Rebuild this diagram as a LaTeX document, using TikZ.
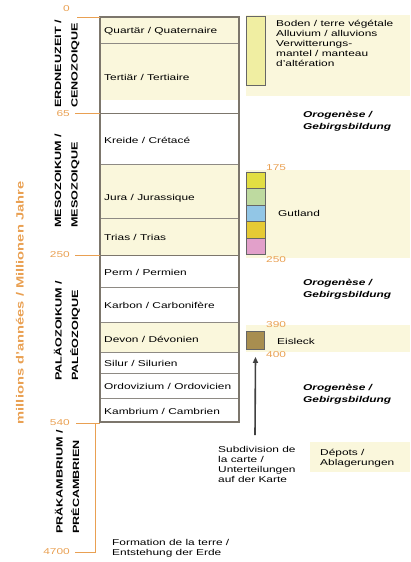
\documentclass[tikz,border=0pt]{standalone}
\usepackage{fontspec}
\setmainfont{Liberation Sans}[FakeStretch=1.4]
\usetikzlibrary{arrows.meta}

\definecolor{creme}{HTML}{FAF7DC}
\definecolor{orangeton}{HTML}{E9A052}
\definecolor{rahmengrau}{HTML}{7C766C}
\definecolor{liniegrau}{HTML}{8E8A84}
\definecolor{bodengelb}{HTML}{F0EEA2}
\definecolor{gelbeins}{HTML}{E2DE42}
\definecolor{gruen}{HTML}{BEDAA0}
\definecolor{blau}{HTML}{92C6E6}
\definecolor{gold}{HTML}{E6CA34}
\definecolor{rosa}{HTML}{E2A0CA}
\definecolor{oesling}{HTML}{A88E50}

\tikzset{
  zeile/.style={anchor=west, inner sep=0pt, font=\fontsize{8.5}{10}\selectfont},
  zahllinks/.style={anchor=east, inner sep=0pt, text=orangeton, font=\fontsize{8.5}{10}\selectfont},
  zahlrechts/.style={anchor=west, inner sep=0pt, text=orangeton, font=\fontsize{8.5}{10}\selectfont},
  aera/.style={rotate=90, anchor=west, align=left, inner sep=0pt, font=\bfseries\fontsize{9}{16.5}\selectfont},
  orogen/.style={anchor=north west, align=left, inner sep=0pt, font=\bfseries\itshape\fontsize{8.5}{12}\selectfont},
  notiz/.style={anchor=north west, align=left, inner sep=0pt, font=\fontsize{8.5}{10}\selectfont},
  kaestchen/.style={draw=black!60, line width=0.8pt},
  altersstrich/.style={draw=orangeton, line width=0.6pt},
  pfeil/.style={draw=black!75, line width=1.6pt, -{Triangle[length=6pt,width=5pt]}},
}

\begin{document}
\begin{tikzpicture}[x=1pt, y=-1pt]
		%%%%% START %%%%%
		\useasboundingbox (0,0) rectangle (410,562);
		
		% helle Baender rechts
		\fill[creme] (246,15) rectangle (410,96);
		\fill[creme] (246,170) rectangle (410,258);
		\fill[creme] (246,325) rectangle (410,352);
		\fill[creme] (310,442) rectangle (410,472);
		
		% Tabelle
		\fill[creme] (100,17) rectangle (239,100);
		\fill[creme] (100,164) rectangle (239,255);
		\fill[creme] (100,322) rectangle (239,352);
		\foreach \y in {43,164,218,287,322,352,373,398}
			\draw[liniegrau, line width=0.7pt] (100,\y) -- (239,\y);
		\draw[rahmengrau, line width=1pt] (100,113) -- (239,113);
		\draw[rahmengrau, line width=1pt] (100,255) -- (239,255);
		\draw[rahmengrau, line width=1.2pt] (100,17) rectangle (239,422);
		
		\node[zeile] (quartaer) at (104,31) {Quartär / Quaternaire};
		\node[zeile] (tertiaer) at (104,77) {Tertiär / Tertiaire};
		\node[zeile] (kreide) at (104,140) {Kreide / Crétacé};
		\node[zeile] (jura) at (104,198) {Jura / Jurassique};
		\node[zeile] (trias) at (104,237) {Trias / Trias};
		\node[zeile] (perm) at (104,272) {Perm / Permien};
		\node[zeile] (karbon) at (104,305) {Karbon / Carbonifère};
		\node[zeile] (devon) at (104,339) {Devon / Dévonien};
		\node[zeile] (silur) at (104,363) {Silur / Silurien};
		\node[zeile] (ordovizium) at (104,386) {Ordovizium / Ordovicien};
		\node[zeile] (kambrium) at (104,411) {Kambrium / Cambrien};
		
		% Zeitskala links
		\node[zahllinks] (ma0) at (70,9) {0};
		\node[zahllinks] (ma65) at (70,114) {65};
		\node[zahllinks] (ma250) at (70,255) {250};
		\node[zahllinks] (ma540) at (70,423) {540};
		\node[zahllinks] (ma4700) at (70,552) {4700};
		\draw[altersstrich] (77,17) -- (100,17);
		\draw[altersstrich] (75,113) -- (100,113);
		\draw[altersstrich] (75,255) -- (100,255);
		\draw[altersstrich] (76,423) -- (100,423);
		\draw[altersstrich] (95,423) -- (95,552) -- (75,552);
		
		\node[aera] (kaenozoikum) at (67,108) {ERDNEUZEIT /\\CENOZOIQUE};
		\node[aera] (mesozoikum) at (67,228) {MESOZOIKUM /\\MESOZOIQUE};
		\node[aera] (palaeozoikum) at (67,381) {PALÄOZOIKUM /\\PALÉOZOIQUE};
		\node[aera] (praekambrium) at (67,534) {PRÄKAMBRIUM /\\PRÉCAMBRIEN};
		
		\node[rotate=90, inner sep=0pt, text=orangeton, font=\bfseries\fontsize{10.5}{12}\selectfont] (jahre) at (20,303) {millions d'années / Millionen Jahre};
		
		% Kaestchen rechts
		\draw[kaestchen, fill=bodengelb] (246,16) rectangle (265,85);
		\foreach \farbe [count=\i] in {gelbeins,gruen,blau,gold,rosa}
			\draw[kaestchen, fill=\farbe] (246,{172+16.5*(\i-1)}) rectangle (265,{172+16.5*\i});
		\node[kaestchen, fill=oesling, minimum width=18pt, minimum height=18pt, inner sep=0pt] (eisleckbox) at (255.5,340.5) {};
		
		\node[zahlrechts] (ma175) at (266,168) {175};
		\node[zahlrechts] (ma250r) at (266,260) {250};
		\node[zahlrechts] (ma390) at (266,325) {390};
		\node[zahlrechts] (ma400) at (266,355) {400};
		
		\node[notiz] (boden) at (276,20) {Boden / terre végétale\\Alluvium / alluvions\\Verwitterungs-\\mantel / manteau\\d'altération};
		\node[zeile] (gutland) at (278,213) {Gutland};
		\node[zeile] (eisleck) at (277,341) {Eisleck};
		
		\node[orogen] (orogen1) at (303,111) {Orogenèse /\\Gebirgsbildung};
		\node[orogen] (orogen2) at (303,279) {Orogenèse /\\Gebirgsbildung};
		\node[orogen] (orogen3) at (303,384) {Orogenèse /\\Gebirgsbildung};
		
		% Legende unten
		\coordinate (pfeilfuss) at (255,435);
		\draw[pfeil] (pfeilfuss) -- ([yshift=-7pt]eisleckbox.south);
		\node[notiz] (subdivision) at (218,446) {Subdivision de\\la carte /\\Unterteilungen\\auf der Karte};
		\node[notiz] (depots) at (320,449) {Dépots /\\Ablagerungen};
		\node[notiz] (formation) at (112,539) {Formation de la terre /\\Entstehung der Erde};
		
		%%%%% END %%%%%
\end{tikzpicture}
\end{document}
